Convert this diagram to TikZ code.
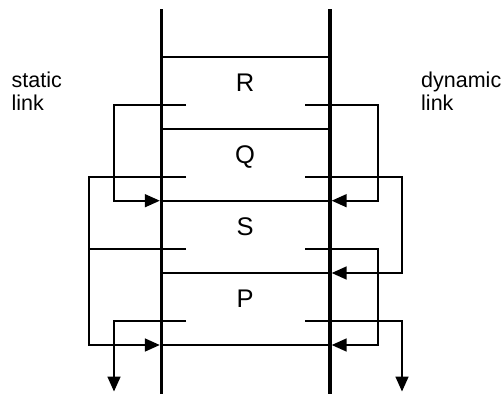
\documentclass[tikz,border=0pt]{standalone}
\usepackage{fontspec}
\setmainfont{Liberation Sans}
\usetikzlibrary{arrows.meta}
\begin{document}
\begin{tikzpicture}[x=1pt,y=-1pt,
  stack/.style={line width=3.4pt},
  frameline/.style={line width=2pt},
  link/.style={line width=1.7pt},
  arr/.style={link,-{Triangle[length=15pt,width=13pt]}},
  lbl/.style={font=\fontsize{25.5}{30}\selectfont, inner sep=0pt, anchor=base},
  side/.style={font=\fontsize{21.5}{24}\selectfont, inner sep=0pt, anchor=base west},
]
\useasboundingbox (0,0) rectangle (502,394);
% stack walls
\coordinate (LT) at (161.5,9);   \coordinate (LB) at (161.5,394);
\coordinate (RT) at (330,9);     \coordinate (RB) at (330,394);
% frame boundaries
\foreach \n/\y in {0/56.7,1/128.7,2/200.7,3/273,4/345}{
  \coordinate (fl\n) at (161.5,\y);
  \coordinate (fr\n) at (330,\y);
  \coordinate (al\n) at (159.8,\y);
  \coordinate (ar\n) at (331.7,\y);
}
\foreach \n in {0,...,4}{ \draw[frameline] (fl\n) -- (fr\n); }
\draw[stack] (LT) -- (LB);
\draw[stack] (RT) -- (RB);
% link fields
\foreach \n/\y in {R/105,Q/176.7,S/248.7,P/320.7}{
  \coordinate (s\n) at (186,\y);
  \coordinate (d\n) at (305,\y);
}
% corner points
\coordinate (sRa) at (114,105);   \coordinate (sRb) at (114,200.7);
\coordinate (sQa) at (89,176.7);  \coordinate (sQb) at (89,345);
\coordinate (sSa) at (89,248.7);
\coordinate (sPa) at (114,320.7); \coordinate (sPb) at (114,391.5);
\coordinate (dRa) at (378,105);   \coordinate (dRb) at (378,200.7);
\coordinate (dQa) at (402,176.7); \coordinate (dQb) at (402,273);
\coordinate (dSa) at (378,248.7); \coordinate (dSb) at (378,345);
\coordinate (dPa) at (402,320.7); \coordinate (dPb) at (402,391.5);
% static links
\draw[arr] (sR) -- (sRa) -- (sRb) -- (al2);
\draw[arr] (sQ) -- (sQa) -- (sQb) -- (al4);
\draw[link] (sS) -- (sSa);
\draw[arr] (sP) -- (sPa) -- (sPb);
% dynamic links
\draw[arr] (dR) -- (dRa) -- (dRb) -- (ar2);
\draw[arr] (dQ) -- (dQa) -- (dQb) -- (ar3);
\draw[arr] (dS) -- (dSa) -- (dSb) -- (ar4);
\draw[arr] (dP) -- (dPa) -- (dPb);
% labels
\node[lbl] (labR) at (245,91.5) {R};
\node[lbl] (labQ) at (245,163.5) {Q};
\node[lbl] (labS) at (245,235.5) {S};
\node[lbl] (labP) at (245,307.5) {P};
\node[side] (st1) at (11.5,87) {static};
\node[side] (st2) at (11.5,110) {link};
\node[side] (dy1) at (421,87) {dynamic};
\node[side] (dy2) at (421,110) {link};
\end{tikzpicture}
\end{document}
